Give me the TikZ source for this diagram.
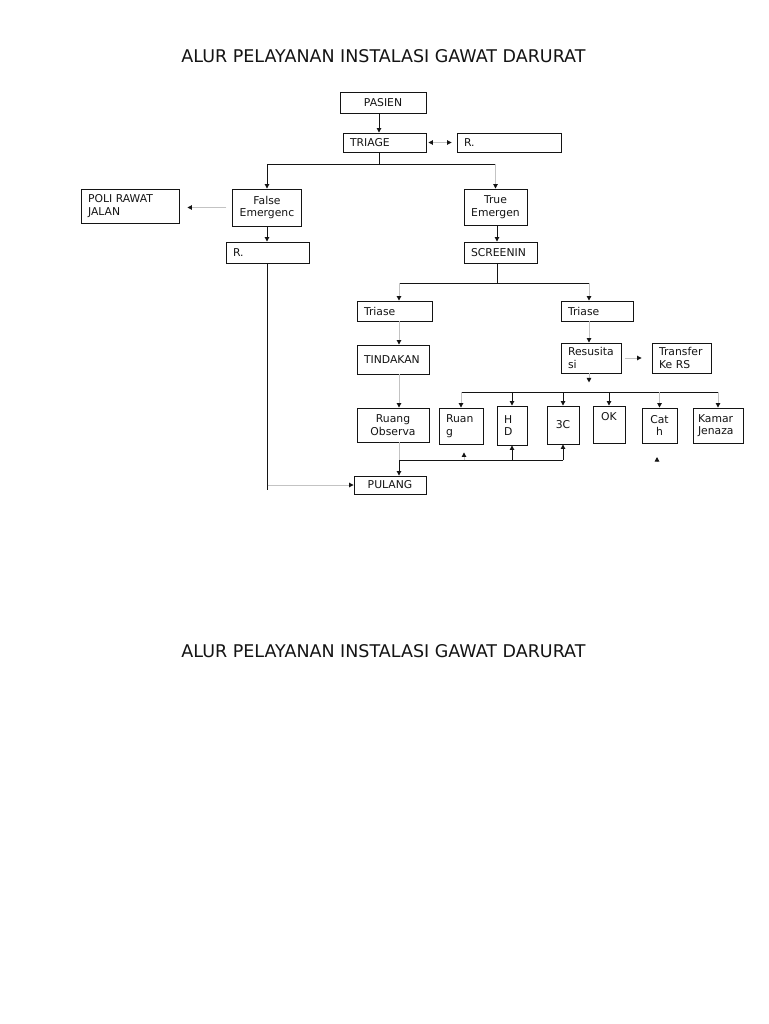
\documentclass[tikz,border=0pt]{standalone}
\usepackage{fontspec}
\setmainfont{DejaVu Sans}
\usetikzlibrary{arrows.meta}
\definecolor{ink}{RGB}{20,20,20}
\definecolor{haze}{RGB}{195,195,195}
\tikzset{
  >={Triangle[length=4.5pt,width=4.5pt,color=ink]},
  box/.style={draw=ink,line width=0.9pt,inner xsep=7pt,inner ysep=0pt,
    font=\fontsize{10.8}{12.5}\selectfont,text=ink},
  lbox/.style 2 args={box,text width=#1,minimum height=#2,align=left},
  cbox/.style 2 args={box,minimum width=#1,minimum height=#2,align=center},
  wire/.style={draw=ink,line width=0.9pt},
  flow/.style={->,wire},
  pale/.style={->,draw=haze,line width=0.9pt},
  heading/.style={font=\fontsize{17.5}{20}\selectfont,text=ink},
}
\begin{document}
\begin{tikzpicture}[x=1pt,y=-1pt]
  \fill[white] (0,0) rectangle (768,1024);
  \useasboundingbox (0,0) rectangle (768,1024);

  \node[heading] (title) at (383.5,56) {ALUR PELAYANAN INSTALASI GAWAT DARURAT};
  \node[heading] (title2) at (383.5,651) {ALUR PELAYANAN INSTALASI GAWAT DARURAT};

  % boxes
  \node[cbox={86pt}{21pt}] (pasien) at (383,102.5) {PASIEN};
  \node[lbox={69pt}{19pt}] (triage) at (384.5,142.5) {TRIAGE};
  \node[lbox={90pt}{19pt}] (rtop) at (509,142.5) {R.};
  \node[lbox={84pt}{34pt}] (poli) at (130,206) {POLI RAWAT\\JALAN};
  \node[cbox={68pt}{37pt}] (false) at (267,207.5) {False\\Emergenc};
  \node[lbox={69pt}{21pt}] (rleft) at (267.5,252.5) {R.};
  \node[cbox={63pt}{36pt}] (true) at (495.5,207) {True\\Emergen};
  \node[lbox={59pt}{21pt}] (screen) at (500.5,252.5) {SCREENIN};
  \node[lbox={61pt}{20pt}] (triL) at (394.5,311) {Triase};
  \node[lbox={58pt}{20pt}] (triR) at (597,311) {Triase};
  \node[lbox={58pt}{29pt}] (tind) at (393,359.5) {TINDAKAN};
  \node[cbox={72pt}{34pt}] (obs) at (393,425) {Ruang\\Observa};
  \node[cbox={72pt}{18pt}] (pulang) at (390,485) {PULANG};
  \node[lbox={46pt}{30pt}] (resus) at (591,358) {Resusita\\si};
  \node[lbox={45pt}{30pt}] (transfer) at (681.5,358) {Transfer\\Ke RS};
  \node[lbox={30pt}{36pt}] (rawat) at (461,426) {Ruan\\g};
  \node[lbox={16pt}{39pt}] (hd) at (512,425.5) {H\\D};
  \node[cbox={32pt}{38pt}] (c3) at (563,425) {3C};
  \node[cbox={32pt}{37pt},text depth=16pt] (ok) at (609,424.5) {OK};
  \node[cbox={35pt}{35pt}] (cath) at (659.5,425.5) {Cat\\h};
  \node[lbox={36pt}{35pt},inner xsep=5pt,text width=40pt] (kamar) at (718,425.5) {Kamar\\Jenaza};

  % triage
  \draw[flow] ([xshift=-4pt]pasien.south) -- ([xshift=-4pt]pasien.south |- triage.north);
  \draw[pale,<->] ([xshift=2pt]triage.east) -- ([xshift=-5pt]rtop.west);
  \coordinate (split) at (379.5,164);
  \draw[wire] ([xshift=-5pt]triage.south) -- (split);
  \draw[flow] (split) -| (false.north);
  \draw[wire] (split) -- (split -| true.north);
  \draw[pale] (split -| true.north) -- (true.north);

  % false emergency
  \draw[pale] ([xshift=-6pt]false.west) -- ([xshift=8pt]poli.east |- false.west);
  \draw[flow] (false.south) -- (false.south |- rleft.north);
  \coordinate (rend) at (267.5,490);
  \draw[wire] (rleft.south) -- (rend);
  \draw[pale] (rleft.south |- pulang.west) -- (pulang.west);

  % true emergency
  \draw[flow] ([xshift=1.5pt]true.south) -- ([xshift=1.5pt]true.south |- screen.north);
  \coordinate (split2) at (497,283);
  \draw[wire] (split2 |- screen.south) -- (split2);
  \draw[wire] ([xshift=4.5pt]triL.north |- split2) -- ([xshift=-8pt]triR.north |- split2);
  \draw[pale] ([xshift=4.5pt]triL.north |- split2) -- ([xshift=4.5pt]triL.north);
  \draw[pale] ([xshift=-8pt]triR.north |- split2) -- ([xshift=-8pt]triR.north);

  % left column
  \draw[pale] ([xshift=4.5pt]triL.south) -- ([xshift=4.5pt]triL.south |- tind.north);
  \draw[pale] ([xshift=6pt]tind.south) -- ([xshift=6pt]tind.south |- obs.north);
  \coordinate (merge) at (399,460);
  \draw[pale,-] ([xshift=6pt]obs.south) -- (merge);
  \draw[flow] (merge) -- (merge |- pulang.north);
  \draw[wire] (merge) -- (merge -| c3);
  \draw[pale] ([xshift=3pt]merge -| rawat) -- ([xshift=3pt,yshift=-8pt]rawat.south);
  \draw[flow] (merge -| hd) -- (hd.south);
  \draw[flow] (merge -| c3) -- (c3.south);

  % right column
  \draw[pale] ([xshift=-2pt]resus.north |- triR.south) -- ([xshift=-2pt]resus.north);
  \draw[pale] ([xshift=4pt]resus.east) -- ([xshift=-10pt]transfer.west);
  \draw[pale] ([xshift=-2pt]resus.south) -- ++(0,9);
  \coordinate (fan) at (589,392);
  \draw[wire] (fan -| rawat) -- (fan -| kamar);
  \foreach \n in {hd,c3,ok} \draw[flow] (fan -| \n) -- (\n.north);
  \foreach \n in {rawat,cath,kamar} \draw[pale] (fan -| \n) -- (\n.north);
  \coordinate (stray) at (657,461);
  \draw[pale] (stray) -- ++(0,-4);
\end{tikzpicture}
\end{document}
